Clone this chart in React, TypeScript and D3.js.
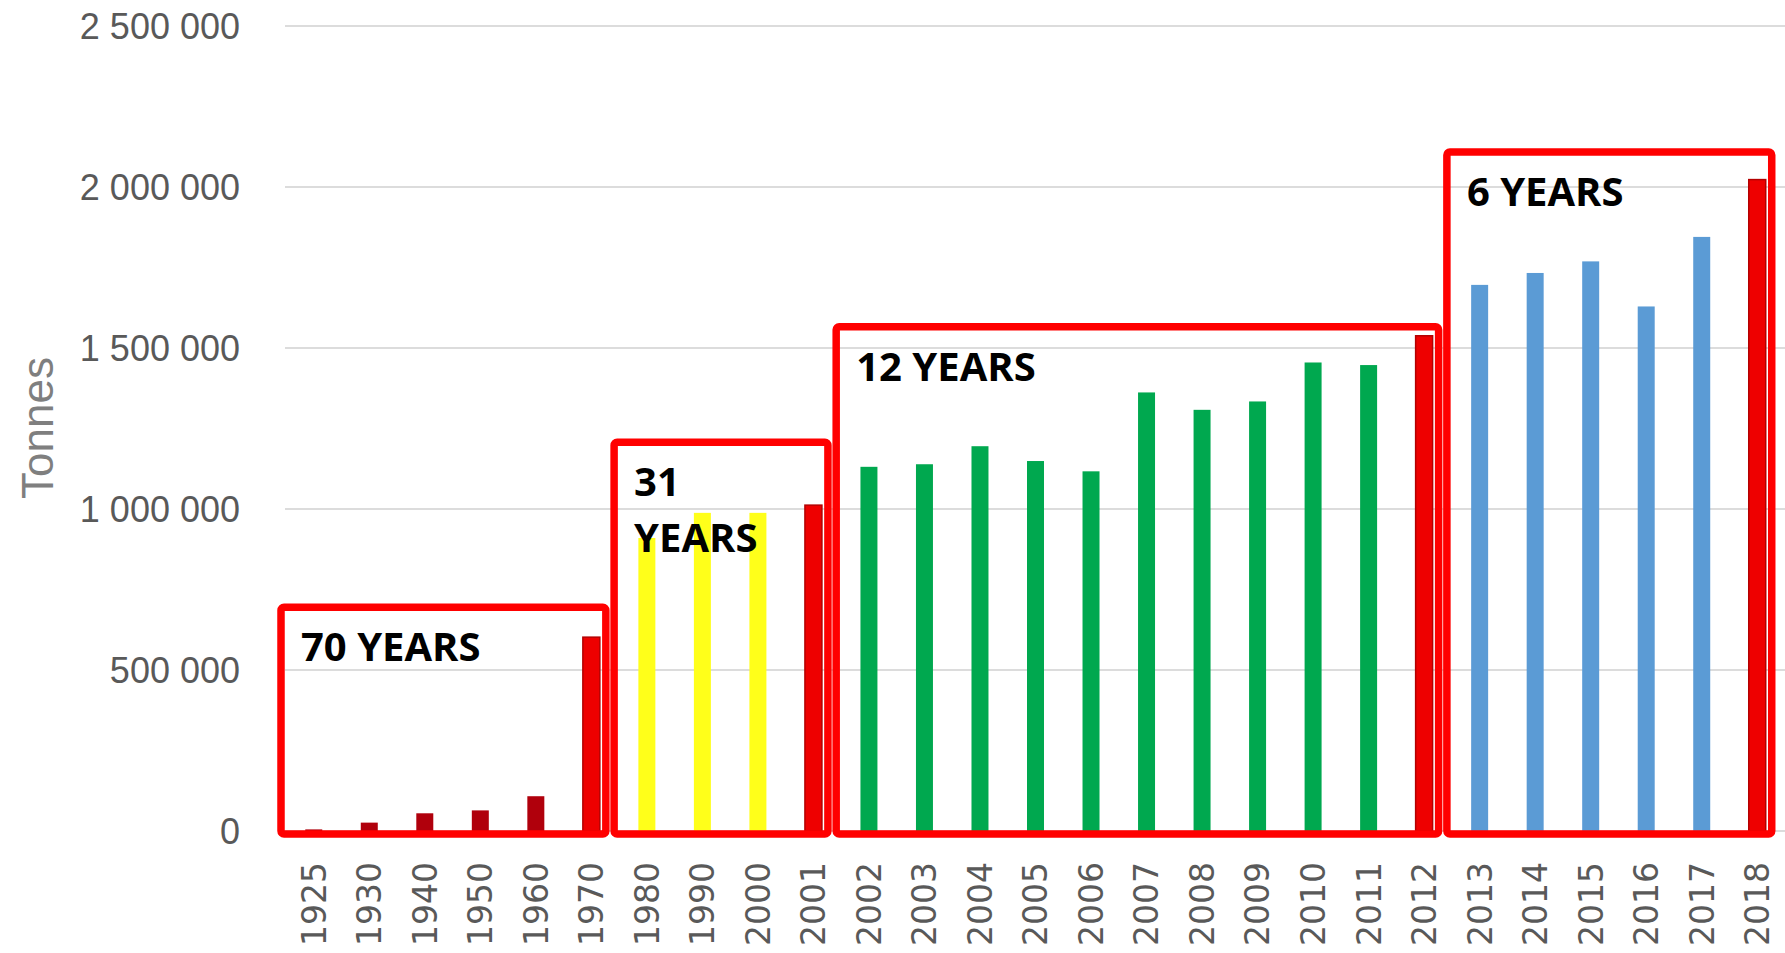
import React, { useEffect, useRef } from 'react';
import * as d3 from 'd3';

// years on the x axis
const years = [
  '1925', '1930', '1940', '1950', '1960', '1970', '1980', '1990', '2000', '2001',
  '2002', '2003', '2004', '2005', '2006', '2007', '2008', '2009', '2010', '2011', '2012',
  '2013', '2014', '2015', '2016', '2017', '2018',
];

// production in tonnes
const tonnes = [
  5000, 26000, 55000, 64000, 108000, 602000, 910000, 988000, 988000, 1012000,
  1131000, 1139000, 1195000, 1149000, 1117000, 1362000, 1308000, 1334000, 1455000, 1447000, 1538000,
  1696000, 1733000, 1769000, 1629000, 1845000, 2023000,
];

const yTicks = [0, 500000, 1000000, 1500000, 2000000, 2500000];

// annotated periods
const periodLabels = [['70 YEARS'], ['31', 'YEARS'], ['12 YEARS'], ['6 YEARS']];
const periodFirst = ['1925', '1980', '2002', '2013'];
const periodLast = ['1970', '2001', '2012', '2018'];
const periodTop = [695000, 1207000, 1566000, 2109000];

const W = 1785;
const H = 953;

const App = () => {
  const svgRef = useRef<SVGSVGElement | null>(null);

  useEffect(() => {
    const svg = d3.select(svgRef.current);
    svg.selectAll('*').remove();

    const x = d3.scaleBand<string>()
      .domain(years)
      .range([286, 1785])
      .paddingInner(0.694)
      .paddingOuter(0.347);

    const y = d3.scaleLinear()
      .domain([0, 2500000])
      .range([831, 26]);

    const fmt = (v: number) => d3.format(',')(v).replace(/,/g, ' ');

    // grid lines
    svg.append('g')
      .selectAll('line')
      .data(yTicks)
      .enter()
      .append('line')
      .attr('x1', 285)
      .attr('x2', W)
      .attr('y1', d => y(d))
      .attr('y2', d => y(d))
      .attr('stroke', '#dcdcdc')
      .attr('stroke-width', 2);

    // y tick labels
    svg.append('g')
      .selectAll('text')
      .data(yTicks)
      .enter()
      .append('text')
      .attr('x', 240)
      .attr('y', d => y(d))
      .attr('dy', '0.36em')
      .attr('text-anchor', 'end')
      .style('font-family', '"Liberation Sans", Arial, sans-serif')
      .style('font-size', '36px')
      .attr('fill', '#595959')
      .text(d => fmt(d));

    // y axis title
    svg.append('text')
      .attr('transform', 'translate(53,428) rotate(-90)')
      .attr('text-anchor', 'middle')
      .style('font-family', '"Liberation Sans", Arial, sans-serif')
      .style('font-size', '44px')
      .attr('fill', '#7f7f7f')
      .text('Tonnes');

    // colour by period, the last year of each period in red
    const periodColors = ['#b0000c', '#ffff1a', '#00a84f', '#5b9bd5'];
    const periodOf = (yr: string) => periodLast.findIndex(l => +yr <= +l);
    const isLast = (yr: string) => periodLast.includes(yr);

    svg.append('g')
      .selectAll('rect')
      .data(years.map((yr, i) => ({ yr, v: tonnes[i] })))
      .enter()
      .append('rect')
      .attr('x', d => x(d.yr)!)
      .attr('y', d => y(d.v))
      .attr('width', x.bandwidth())
      .attr('height', d => y(0) - y(d.v))
      .attr('fill', d => isLast(d.yr) ? '#ee0000' : periodColors[periodOf(d.yr)])
      .attr('stroke', d => isLast(d.yr) ? '#b40000' : 'none')
      .attr('stroke-width', 1.5);

    // x tick labels
    svg.append('g')
      .selectAll('text')
      .data(years)
      .enter()
      .append('text')
      .attr('transform', d => `translate(${x(d)! + x.bandwidth() / 2},862) rotate(-90)`)
      .attr('dy', '0.36em')
      .attr('text-anchor', 'end')
      .style('font-family', '"DejaVu Sans", sans-serif')
      .style('font-size', '33px')
      .attr('fill', '#595959')
      .text(d => d);

    // period boxes
    const step = x.step();
    const bw = x.bandwidth();
    periodFirst.forEach((first, i) => {
      const left = x(first)! - (step - bw) / 2 - 5;
      const right = x(periodLast[i])! + bw + 6;
      const top = y(periodTop[i]);
      const bottom = y(0) + 3;

      svg.append('rect')
        .attr('x', left)
        .attr('y', top)
        .attr('width', right - left)
        .attr('height', bottom - top)
        .attr('rx', 3)
        .attr('fill', 'none')
        .attr('stroke', '#ff0000')
        .attr('stroke-width', 7.5);

      const t = svg.append('text')
        .attr('x', left + 20)
        .attr('y', top + 54)
        .style('font-family', '"Open Sans", sans-serif')
        .style('font-weight', 700)
        .style('font-size', '40px')
        .attr('fill', '#000');
      periodLabels[i].forEach((line, j) => {
        t.append('tspan')
          .attr('x', left + 20)
          .attr('dy', j === 0 ? 0 : 56)
          .text(line);
      });
    });
  }, []);

  return (
    <div style={{ width: W, height: H, overflow: 'hidden' }}>
      <svg
        ref={svgRef}
        width={W}
        height={H}
        style={{ position: 'absolute', left: 0, top: 0, background: '#fff' }}
      />
    </div>
  );
};

export default App;
